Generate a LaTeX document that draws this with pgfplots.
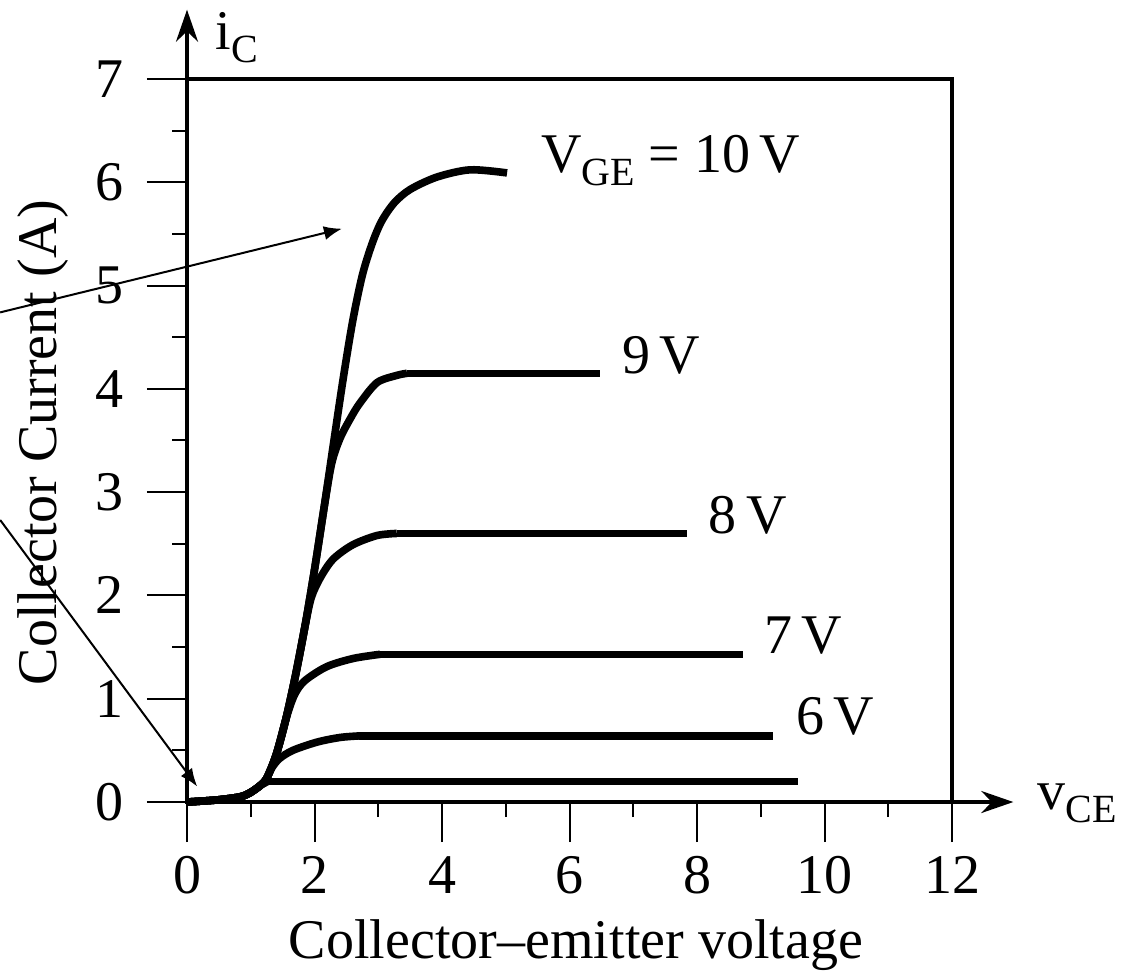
\documentclass[border=0pt]{standalone}
\usepackage{fontspec}
\setmainfont{Liberation Serif}
\usepackage{pgfplots}
\pgfplotsset{compat=1.18}
\usetikzlibrary{arrows.meta}
\newcommand{\sub}[1]{\raisebox{-3.2pt}{\fontsize{10}{12}\selectfont #1}}
\begin{document}
\begin{tikzpicture}[font=\fontsize{14}{17}\selectfont]
\begin{axis}[
  scale only axis, width=191.25pt, height=180.75pt,
  xmin=0, xmax=12, ymin=0, ymax=7,
  axis line style={line width=0.9pt},
  xtick={0,2,...,12}, ytick={0,1,...,7},
  minor x tick num=1, minor y tick num=1,
  xtick pos=bottom, ytick pos=left,
  tick align=outside,
  major tick length=10pt, minor tick length=3.75pt,
  tick style={line width=0.5pt, black},
  /pgf/number format/assume math mode=true,
  tick label style={font=\fontsize{14}{17}\selectfont},
  yticklabel style={xshift=-2.3pt},
  clip=false,
  curve/.style={black, line width=1.9pt, smooth, tension=0.5, mark=none},
  flat/.style={black, line width=1.9pt, sharp plot, mark=none},
]
% VGE = 5 V
\addplot[curve] coordinates {(0,0) (0.47,0.02) (0.83,0.05) (0.99,0.09) (1.15,0.16) (1.27,0.2)};
\addplot[flat] coordinates {(1.27,0.2) (9.58,0.2)};
% 6 V
\addplot[curve] coordinates {(0,0) (0.47,0.02) (0.83,0.05) (0.99,0.09) (1.15,0.16) (1.25,0.23) (1.33,0.33) (1.45,0.42) (1.66,0.50) (2.04,0.58) (2.40,0.625) (2.7,0.64)};
\addplot[flat] coordinates {(2.7,0.64) (9.19,0.64)};
% 7 V
\addplot[curve] coordinates {(0,0) (0.47,0.02) (0.83,0.05) (0.99,0.09) (1.15,0.16) (1.25,0.23) (1.40,0.46) (1.55,0.80) (1.68,1.03) (1.84,1.17) (2.19,1.31) (2.61,1.39) (3.03,1.43)};
\addplot[flat] coordinates {(3.03,1.43) (8.72,1.43)};
% 8 V
\addplot[curve] coordinates {(0,0) (0.47,0.02) (0.83,0.05) (0.99,0.09) (1.15,0.16) (1.25,0.23) (1.40,0.46) (1.55,0.80) (1.70,1.22) (1.85,1.70) (1.95,1.98) (2.09,2.17) (2.29,2.35) (2.60,2.49) (2.98,2.58) (3.29,2.60)};
\addplot[flat] coordinates {(3.29,2.60) (7.84,2.60)};
% 9 V
\addplot[curve] coordinates {(0,0) (0.47,0.02) (0.83,0.05) (0.99,0.09) (1.15,0.16) (1.25,0.23) (1.40,0.46) (1.55,0.80) (1.70,1.22) (1.85,1.70) (2.00,2.25) (2.15,2.85) (2.27,3.28) (2.40,3.52) (2.56,3.71) (2.71,3.86) (2.98,4.06) (3.29,4.13) (3.45,4.15)};
\addplot[flat] coordinates {(3.45,4.15) (6.48,4.15)};
% 10 V
\addplot[curve] coordinates {(0,0) (0.47,0.02) (0.83,0.05) (0.99,0.09) (1.15,0.16) (1.25,0.23) (1.40,0.46) (1.55,0.80) (1.70,1.22) (1.85,1.70) (2.00,2.25) (2.15,2.85) (2.30,3.48) (2.45,4.10) (2.60,4.66) (2.75,5.10) (2.90,5.40) (3.05,5.62) (3.25,5.80) (3.50,5.93) (3.92,6.05) (4.44,6.12) (5.02,6.09)};

% axis arrows
\draw[line width=0.9pt, -{Stealth[length=8pt,width=5.5pt]}] (axis cs:0,7) -- (axis cs:0,7.67);
\draw[line width=0.9pt, -{Stealth[length=8pt,width=5.5pt]}] (axis cs:12,0) -- (axis cs:12.96,0);
% annotation arrows
\draw[line width=0.5pt, -{Latex[length=4.5pt,width=3.5pt]}] (axis cs:-2.93,4.74) -- (axis cs:2.43,5.55);
\draw[line width=0.5pt, -{Latex[length=4.5pt,width=3.5pt]}] (axis cs:-2.93,2.73) -- (axis cs:0.16,0.15);

% texts
\node[anchor=base west, inner sep=0pt] at (axis cs:0.44,7.28) {i\sub{C}};
\node[anchor=base west, inner sep=0pt] at (axis cs:13.33,-0.077) {v\sub{CE}};
\node[anchor=base west, inner sep=0pt] at (axis cs:5.54,6.09) {V\sub{GE} = 10\,V};
\node[anchor=base west, inner sep=0pt] at (axis cs:6.82,4.15) {9\,V};
\node[anchor=base west, inner sep=0pt] at (axis cs:8.17,2.60) {8\,V};
\node[anchor=base west, inner sep=0pt] at (axis cs:9.04,1.44) {7\,V};
\node[anchor=base west, inner sep=0pt] at (axis cs:9.54,0.65) {6\,V};
\node[rotate=90, anchor=center, inner sep=0pt] at (axis cs:-2.26,3.48) {Collector Current (A)};
\node[anchor=base, inner sep=0pt] at (axis cs:6.10,-1.51) {Collector–emitter voltage};

\coordinate (bbl) at (axis cs:-2.933,-1.655);
\coordinate (bbr) at (axis cs:14.68,7.764);
\end{axis}
\pgfresetboundingbox
\path[use as bounding box] (bbl) rectangle (bbr);
\end{tikzpicture}
\end{document}
